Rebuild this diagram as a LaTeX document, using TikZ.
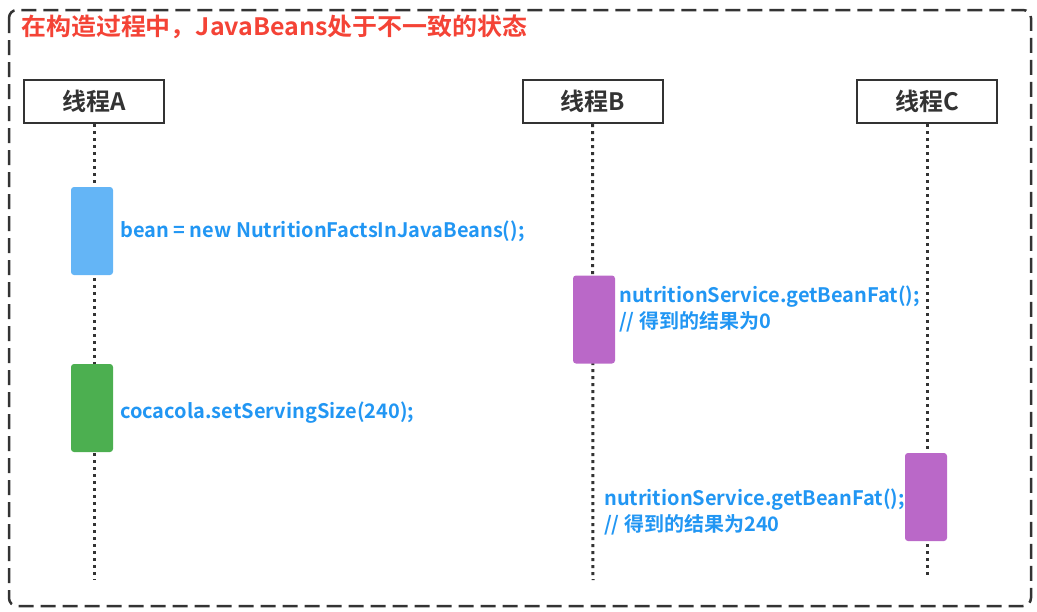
\documentclass[tikz,border=0pt]{standalone}
\usepackage{fontspec}
\setmainfont{Noto Sans CJK SC}[BoldFont={Noto Sans CJK SC Bold}]
\definecolor{frame}{HTML}{333333}
\definecolor{titlered}{HTML}{F44336}
\definecolor{codeblue}{HTML}{2196F3}
\definecolor{actblue}{HTML}{64B5F6}
\definecolor{actgreen}{HTML}{4CAF50}
\definecolor{actpurple}{HTML}{BA68C8}
\tikzset{
  outerframe/.style={draw=frame, line width=2.5pt, dash pattern=on 15pt off 7pt, rounded corners=8pt},
  header/.style={draw=frame, line width=2pt, fill=white, minimum width=140pt, minimum height=43pt, inner sep=0pt, font=\fontsize{24}{28}\selectfont\bfseries, text=frame},
  lifeline/.style={draw=frame, line width=3pt, dash pattern=on 3pt off 4pt},
  act/.style={rounded corners=3pt, minimum width=42pt, minimum height=88pt, inner sep=0pt},
  code/.style={anchor=west, inner sep=0pt, text=codeblue, align=left, font=\fontsize{20}{26}\selectfont\bfseries},
}
\begin{document}
\begin{tikzpicture}[x=1pt,y=-1pt]
\useasboundingbox (0,0) rectangle (1037,611);
\draw[outerframe] (9,10) rectangle (1031,606);
\node[anchor=west, inner sep=0pt, text=titlered, font=\fontsize{24}{28}\selectfont\bfseries] (title) at (21,27) {\scalebox{1.04}[1]{在构造过程中，JavaBeans处于不一致的状态}};
% headers
\node[header] (hA) at (94,101.5) {线程A};
\node[header] (hB) at (592.5,101.5) {线程B};
\node[header] (hC) at (927,101.5) {线程C};
% lifeline ends
\coordinate (eA) at (94,580);
\coordinate (eB) at (593,580);
\coordinate (eC) at (927,578);
\draw[lifeline] (hA.south) -- (eA);
\draw[lifeline] (hB.south) -- (eB);
\draw[lifeline] (hC.south) -- (eC);
% activations
\node[act, fill=actblue] (a1) at (92,231) {};
\node[act, fill=actgreen] (a2) at (92,408) {};
\node[act, fill=actpurple] (b1) at (594,319.5) {};
\node[act, fill=actpurple] (c1) at (926,497) {};
% texts
\node[code] (t1) at (120,231) {bean = new NutritionFactsInJavaBeans();};
\node[code] (t2) at (120,413) {cocacola.setServingSize(240);};
\node[code] (t3) at (619,309) {nutritionService.getBeanFat();\\// 得到的结果为0};
\node[code] (t4) at (604,512) {nutritionService.getBeanFat();\\// 得到的结果为240};
\end{tikzpicture}
\end{document}
